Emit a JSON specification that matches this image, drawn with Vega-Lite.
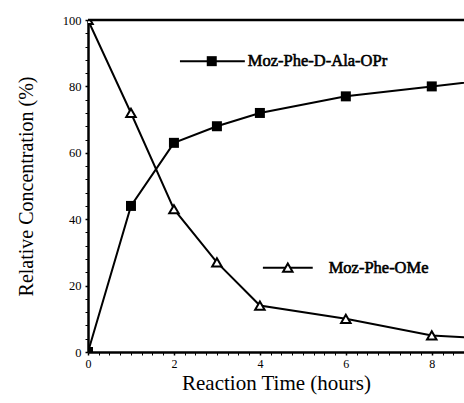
{
  "$schema": "https://vega.github.io/schema/vega-lite/v6.json",
  "autosize": "none",
  "width": 376,
  "height": 332,
  "padding": {"left": 88, "top": 20, "right": 0, "bottom": 51},
  "background": "white",
  "config": {
    "view": {"stroke": null},
    "font": "Times New Roman, Liberation Serif, serif",
    "axis": {"grid": false, "domainColor": "black", "tickColor": "black", "labelColor": "black", "titleColor": "black", "labelFont": "Times New Roman, Liberation Serif, serif", "titleFont": "Times New Roman, Liberation Serif, serif", "labelFontWeight": "normal", "titleFontWeight": "normal"}
  },
  "resolve": {"axis": {"x": "independent", "y": "independent"}},
  "datasets": {
    "series": [
      {"t": 0, "c": 0, "s": "Moz-Phe-D-Ala-OPr"},
      {"t": 1, "c": 44, "s": "Moz-Phe-D-Ala-OPr"},
      {"t": 2, "c": 63, "s": "Moz-Phe-D-Ala-OPr"},
      {"t": 3, "c": 68, "s": "Moz-Phe-D-Ala-OPr"},
      {"t": 4, "c": 72, "s": "Moz-Phe-D-Ala-OPr"},
      {"t": 6, "c": 77, "s": "Moz-Phe-D-Ala-OPr"},
      {"t": 8, "c": 80, "s": "Moz-Phe-D-Ala-OPr"},
      {"t": 10, "c": 83, "s": "Moz-Phe-D-Ala-OPr"},
      {"t": 0, "c": 100, "s": "Moz-Phe-OMe"},
      {"t": 1, "c": 72, "s": "Moz-Phe-OMe"},
      {"t": 2, "c": 43, "s": "Moz-Phe-OMe"},
      {"t": 3, "c": 27, "s": "Moz-Phe-OMe"},
      {"t": 4, "c": 14, "s": "Moz-Phe-OMe"},
      {"t": 6, "c": 10, "s": "Moz-Phe-OMe"},
      {"t": 8, "c": 5, "s": "Moz-Phe-OMe"},
      {"t": 10, "c": 3.5, "s": "Moz-Phe-OMe"}
    ],
    "legendLines": [
      {"t": 2.14, "c": 87.6, "s": "Moz-Phe-D-Ala-OPr"},
      {"t": 3.65, "c": 87.6, "s": "Moz-Phe-D-Ala-OPr"},
      {"t": 4.07, "c": 25.4, "s": "Moz-Phe-OMe"},
      {"t": 5.23, "c": 25.4, "s": "Moz-Phe-OMe"}
    ],
    "legendSyms": [
      {"t": 2.88, "c": 87.6, "s": "Moz-Phe-D-Ala-OPr", "tx": 3.72},
      {"t": 4.65, "c": 25.4, "s": "Moz-Phe-OMe", "tx": 5.6}
    ]
  },
  "layer": [
    {
      "data": {"name": "series"},
      "transform": [{"filter": "datum.t <= 8"}],
      "mark": {"type": "point", "opacity": 0},
      "encoding": {
        "x": {"field": "t", "type": "quantitative", "scale": {"domain": [0, 8.75], "nice": false, "zero": true},
          "axis": {"title": "Reaction Time (hours)", "orient": "bottom", "values": [0, 2, 4, 6, 8], "format": "d",
            "labelOverlap": false, "labelBound": false, "labelFontSize": 12, "tickSize": 3, "domainWidth": 2.5, "tickWidth": 1.5, "labelPadding": 3, "titleFontSize": 21, "titlePadding": 3, "labelFlush": false}},
        "y": {"field": "c", "type": "quantitative", "scale": {"domain": [0, 100], "nice": false},
          "axis": {"title": "Relative Concentration (%)", "orient": "left", "values": [0, 20, 40, 60, 80, 100], "format": "d",
            "labelOverlap": false, "labelBound": false, "labelFontSize": 12.5, "tickSize": 3, "domainWidth": 2.5, "tickWidth": 1.5, "labelPadding": 4, "titleFontSize": 20, "titlePadding": 26, "labelFlush": false}}
      }
    },
    {
      "data": {"name": "series"},
      "mark": {"type": "line", "color": "black", "strokeWidth": 2, "clip": true},
      "encoding": {
        "x": {"field": "t", "type": "quantitative",
          "axis": {"orient": "bottom", "title": null, "labels": false, "domain": false, "tickSize": 3, "tickWidth": 1,
            "values": [0.25,0.5,0.75,1,1.25,1.5,1.75,2.25,2.5,2.75,3,3.25,3.5,3.75,4.25,4.5,4.75,5,5.25,5.5,5.75,6.25,6.5,6.75,7,7.25,7.5,7.75,8.25,8.5]}},
        "y": {"field": "c", "type": "quantitative",
          "axis": {"orient": "left", "title": null, "labels": false, "domain": false, "tickSize": 3, "tickWidth": 1,
            "values": [4,8,12,16,24,28,32,36,44,48,52,56,64,68,72,76,84,88,92,96]}},
        "detail": {"field": "s"}
      }
    },
    {
      "data": {"name": "series"},
      "transform": [{"filter": "datum.s === 'Moz-Phe-D-Ala-OPr'"}],
      "mark": {"type": "square", "color": "black", "size": 100, "opacity": 1, "clip": true},
      "encoding": {
        "x": {"field": "t", "type": "quantitative", "axis": null},
        "y": {"field": "c", "type": "quantitative", "axis": null}
      }
    },
    {
      "data": {"name": "series"},
      "transform": [{"filter": "datum.s === 'Moz-Phe-OMe'"}],
      "mark": {"type": "point", "shape": "triangle-up", "color": "black", "fill": "white", "filled": true, "stroke": "black", "strokeWidth": 2, "size": 90, "opacity": 1, "clip": true},
      "encoding": {
        "x": {"field": "t", "type": "quantitative", "axis": null},
        "y": {"field": "c", "type": "quantitative", "axis": null}
      }
    },
    {
      "data": {"name": "legendLines"},
      "mark": {"type": "line", "color": "black", "strokeWidth": 2},
      "encoding": {
        "x": {"field": "t", "type": "quantitative", "axis": null},
        "y": {"field": "c", "type": "quantitative", "axis": null},
        "detail": {"field": "s"}
      }
    },
    {
      "data": {"name": "legendSyms"},
      "transform": [{"filter": "datum.s === 'Moz-Phe-D-Ala-OPr'"}],
      "mark": {"type": "square", "color": "black", "size": 100, "opacity": 1},
      "encoding": {
        "x": {"field": "t", "type": "quantitative", "axis": null},
        "y": {"field": "c", "type": "quantitative", "axis": null}
      }
    },
    {
      "data": {"name": "legendSyms"},
      "transform": [{"filter": "datum.s === 'Moz-Phe-OMe'"}],
      "mark": {"type": "point", "shape": "triangle-up", "fill": "white", "filled": true, "stroke": "black", "strokeWidth": 2, "size": 90, "opacity": 1},
      "encoding": {
        "x": {"field": "t", "type": "quantitative", "axis": null},
        "y": {"field": "c", "type": "quantitative", "axis": null}
      }
    },
    {
      "data": {"name": "legendSyms"},
      "mark": {"type": "text", "align": "left", "baseline": "middle", "fontSize": 16.5, "fontWeight": "normal", "font": "Times New Roman, Liberation Serif, serif", "color": "black", "stroke": "black", "strokeWidth": 0.6},
      "encoding": {
        "x": {"field": "tx", "type": "quantitative", "axis": null},
        "y": {"field": "c", "type": "quantitative", "axis": null},
        "text": {"field": "s"}
      }
    },
    {
      "data": {"values": [{"c": 100}]},
      "mark": {"type": "rule", "color": "black", "strokeWidth": 2.5},
      "encoding": {
        "y": {"field": "c", "type": "quantitative", "axis": null}
      }
    }
  ]
}
